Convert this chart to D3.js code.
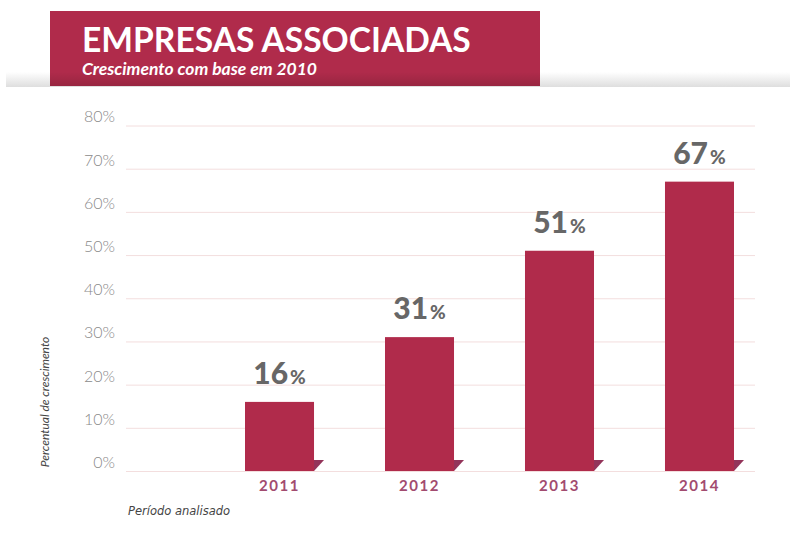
<!DOCTYPE html>
<html>
<head>
<meta charset="utf-8">
<script src="https://cdn.jsdelivr.net/npm/d3@7/dist/d3.min.js"></script>
<style>
  html, body { margin: 0; padding: 0; background: #fff; }
  svg { display: block; }
</style>
</head>
<body>
<svg id="chart" width="800" height="533"></svg>
<script>
// Growth of associated companies (base year 2010)
const years = ["2011", "2012", "2013", "2014"];
const growth = [16, 31, 51, 67];
const yTicks = [0, 10, 20, 30, 40, 50, 60, 70, 80];

const title = "EMPRESAS ASSOCIADAS";
const subtitle = "Crescimento com base em 2010";
const yTitle = "Percentual de crescimento";
const xTitle = "Período analisado";

const data = years.map((y, i) => ({ year: y, value: growth[i] }));

const svg = d3.select("#chart");
const red = "#b02b4b";
const fold = "#93345a";

const defs = svg.append("defs");
const strip = defs.append("linearGradient").attr("id", "strip").attr("x1", 0).attr("y1", 0).attr("x2", 0).attr("y2", 1);
strip.append("stop").attr("offset", "0%").attr("stop-color", "#ffffff");
strip.append("stop").attr("offset", "100%").attr("stop-color", "#dedede");
const shade = defs.append("linearGradient").attr("id", "shade").attr("x1", 0).attr("y1", 0).attr("x2", 0).attr("y2", 1);
shade.append("stop").attr("offset", "0%").attr("stop-color", "#000").attr("stop-opacity", 0);
shade.append("stop").attr("offset", "100%").attr("stop-color", "#000").attr("stop-opacity", 0.14);

// header strip and banner
svg.append("rect").attr("x", 6).attr("y", 72).attr("width", 784).attr("height", 15).attr("fill", "url(#strip)");
svg.append("rect").attr("x", 50).attr("y", 11).attr("width", 490).attr("height", 75).attr("fill", red);
svg.append("rect").attr("x", 50).attr("y", 72).attr("width", 490).attr("height", 14).attr("fill", "url(#shade)");
svg.append("text").attr("x", 82).attr("y", 52)
  .attr("font-family", "Lato, sans-serif").attr("font-weight", 700).attr("font-size", 33.6)
  .attr("fill", "#fff").text(title);
svg.append("text").attr("x", 82).attr("y", 75)
  .attr("font-family", "Lato, sans-serif").attr("font-weight", 700).attr("font-style", "italic").attr("font-size", 17.5)
  .attr("fill", "#fff").text(subtitle);

// scales
const y = d3.scaleLinear().domain([0, 80]).range([471, 125.5]);
const x = d3.scaleBand().domain(years).range([245, 734]).paddingInner(0.507).paddingOuter(0);

// y axis with gridlines
const gridLeft = 126, gridRight = 755;
const yAxis = svg.append("g").attr("transform", `translate(${gridLeft},0)`)
  .call(d3.axisLeft(y).tickValues(yTicks).tickSize(-(gridRight - gridLeft)).tickFormat(d => d + "%"));
yAxis.select(".domain").remove();
yAxis.selectAll(".tick line").attr("stroke", "#f3dede").attr("stroke-width", 1);
yAxis.selectAll(".tick text")
  .attr("x", -11).attr("dy", "-0.22em")
  .attr("font-family", "Lato, sans-serif").attr("font-weight", 300).attr("font-size", 16)
  .attr("fill", "#8a8a8a");

// bars
const bars = svg.append("g");
bars.selectAll("rect").data(data).join("rect")
  .attr("x", d => x(d.year)).attr("y", d => y(d.value))
  .attr("width", x.bandwidth()).attr("height", d => y(0) - y(d.value))
  .attr("fill", red);
// folded corner at the foot of each bar
bars.selectAll("path").data(data).join("path")
  .attr("d", d => {
    const r = x(d.year) + x.bandwidth();
    const b = y(0);
    return `M${r},${b - 11}L${r + 10},${b - 11}L${r},${b}Z`;
  })
  .attr("fill", fold);

// value labels
const labels = svg.append("g").selectAll("text").data(data).join("text")
  .attr("x", d => x(d.year) + x.bandwidth() / 2)
  .attr("y", d => y(d.value) - 18)
  .attr("text-anchor", "middle")
  .attr("font-family", "Lato, sans-serif").attr("font-weight", 900)
  .attr("fill", "#676767");
labels.append("tspan").attr("font-size", 30).text(d => d.value);
labels.append("tspan").attr("font-size", 19).attr("dx", 2).text("%");

// x axis
const xAxis = svg.append("g").attr("transform", `translate(0,${y(0)})`)
  .call(d3.axisBottom(x).tickSize(0).tickPadding(9));
xAxis.select(".domain").remove();
xAxis.selectAll(".tick text")
  .attr("font-family", "Lato, sans-serif").attr("font-weight", 700).attr("font-size", 15)
  .attr("letter-spacing", 1.5)
  .attr("fill", "#a24b6f");

// axis titles
svg.append("text")
  .attr("transform", "translate(49,402) rotate(-90)")
  .attr("text-anchor", "middle")
  .attr("font-family", "Lato, sans-serif").attr("font-style", "italic").attr("font-size", 12)
  .attr("fill", "#444").text(yTitle);
svg.append("text").attr("x", 128).attr("y", 515)
  .attr("font-family", "'DejaVu Sans', sans-serif").attr("font-style", "italic").attr("font-size", 11.5)
  .attr("fill", "#444").text(xTitle);
</script>
</body>
</html>
